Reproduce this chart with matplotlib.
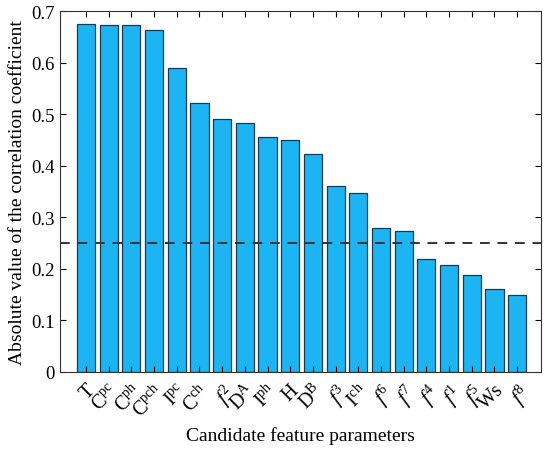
import matplotlib
matplotlib.use('Agg')
import matplotlib.pyplot as plt
import numpy as np

plt.rcParams['font.family'] = 'Liberation Serif'
plt.rcParams['mathtext.fontset'] = 'custom'
plt.rcParams['mathtext.rm'] = 'Liberation Serif'
plt.rcParams['mathtext.it'] = 'Liberation Serif:italic'

labels = [r'$\mathrm{T}$', r'$\mathrm{C^{pc}}$', r'$\mathrm{C^{ph}}$', r'$\mathrm{C^{pch}}$',
          r'$\mathrm{I^{pc}}$', r'$\mathrm{C^{ch}}$', r'$\mathit{f}^{\mathrm{2}}$', r'$\mathrm{D^{A}}$',
          r'$\mathrm{I^{ph}}$', r'$\mathrm{H}$', r'$\mathrm{D^{B}}$', r'$\mathit{f}^{\mathrm{3}}$',
          r'$\mathrm{I^{ch}}$', r'$\mathit{f}^{\mathrm{6}}$', r'$\mathit{f}^{\mathrm{7}}$',
          r'$\mathit{f}^{\mathrm{4}}$', r'$\mathit{f}^{\mathrm{1}}$', r'$\mathit{f}^{\mathrm{5}}$',
          r'$\mathrm{Ws}$', r'$\mathit{f}^{\mathrm{8}}$']
values = [0.675, 0.673, 0.673, 0.663, 0.590, 0.521, 0.490, 0.484, 0.455, 0.450,
          0.422, 0.360, 0.348, 0.280, 0.273, 0.219, 0.208, 0.188, 0.160, 0.150]
threshold = 0.25

fig = plt.figure(figsize=(5.5, 4.52), dpi=100)
ax = fig.add_axes([0.109, 0.175, 0.875, 0.798])

x = np.arange(1, len(values) + 1)
ax.bar(x, values, width=0.8, color='#1cb4f2', edgecolor='#163c50', linewidth=0.9)
ax.axhline(threshold, color='#333333', linestyle=(0, (5, 4)), linewidth=1.4)

ax.set_xlim(-0.15, 21.06)
ax.set_ylim(0, 0.7)
ax.set_yticks(np.arange(0, 0.71, 0.1))
ax.set_yticklabels(['0', '0.1', '0.2', '0.3', '0.4', '0.5', '0.6', '0.7'])
ax.set_xticks(x)
ax.set_xticklabels(labels, rotation=45, ha='right', rotation_mode='anchor')
ax.tick_params(direction='in', labelsize=13.5, top=True, right=True, length=4)
ax.tick_params(axis='x', labelsize=14.5, pad=6)
for s in ax.spines.values():
    s.set_color('#333333')

ax.set_ylabel('Absolute value of the correlation coefficient', fontsize=14)
ax.set_xlabel('Candidate feature parameters', fontsize=14)

fig.savefig('out.png', dpi=100)
